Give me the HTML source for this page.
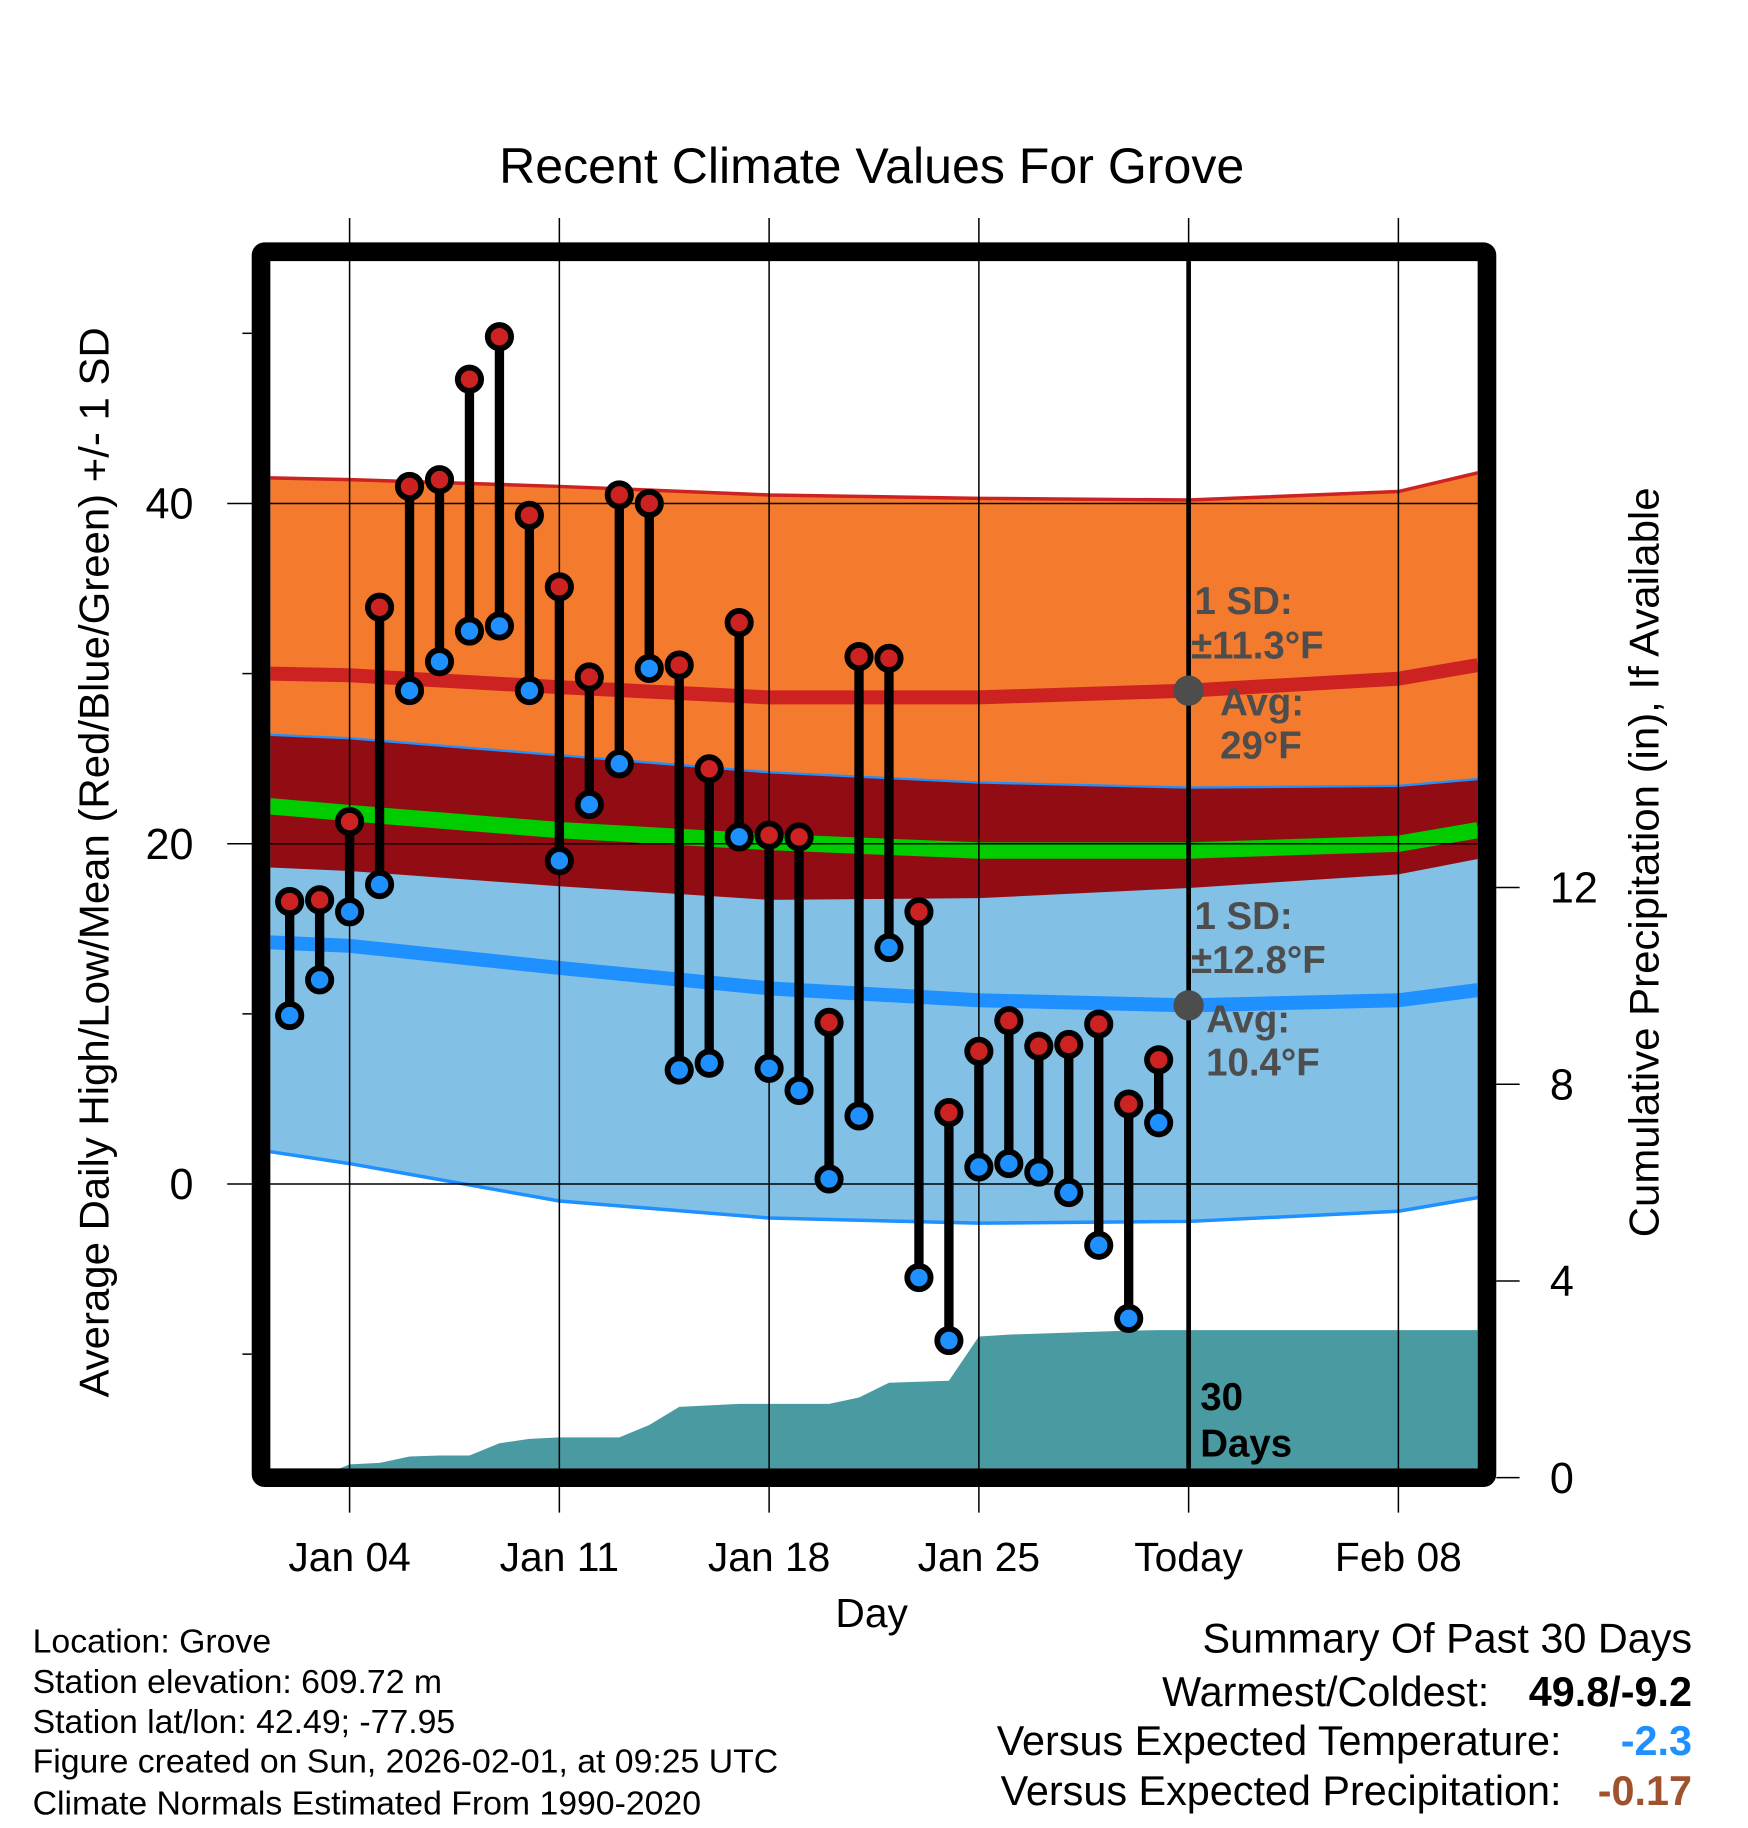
<!DOCTYPE html>
<html><head><meta charset="utf-8"><style>
html,body{margin:0;padding:0;background:#fff;}
svg{display:block;font-family:"Liberation Sans",sans-serif;}
</style></head><body>
<svg id="chart" width="1748" height="1828" viewBox="0 0 1500 1568.6" xmlns="http://www.w3.org/2000/svg">
<text x="748" y="157" font-size="43" text-anchor="middle">Recent Climate Values For Grove</text>
<g id="plot"></g>
<text transform="translate(93,740) rotate(-90)" font-size="36" text-anchor="middle">Average Daily High/Low/Mean (Red/Blue/Green) +/- 1 SD</text>
<text transform="translate(1423,740) rotate(-90)" font-size="36" text-anchor="middle">Cumulative Precipitation (in), If Available</text>
<text x="748" y="1396" font-size="35" text-anchor="middle">Day</text>
<g font-size="29">
<text x="28" y="1418">Location: Grove</text>
<text x="28" y="1453">Station elevation: 609.72 m</text>
<text x="28" y="1487">Station lat/lon: 42.49; -77.95</text>
<text x="28" y="1521">Figure created on Sun, 2026-02-01, at 09:25 UTC</text>
<text x="28" y="1557">Climate Normals Estimated From 1990-2020</text>
</g>
<g font-size="35.5">
<text x="1452" y="1418" text-anchor="end">Summary Of Past 30 Days</text>
<text x="1278" y="1464" text-anchor="end">Warmest/Coldest:</text>
<text x="1452" y="1464" text-anchor="end" font-weight="bold">49.8/-9.2</text>
<text x="1340" y="1506" text-anchor="end">Versus Expected Temperature:</text>
<text x="1452" y="1506" text-anchor="end" font-weight="bold" fill="#1e90ff">-2.3</text>
<text x="1340" y="1549" text-anchor="end">Versus Expected Precipitation:</text>
<text x="1452" y="1549" text-anchor="end" font-weight="bold" fill="#a0522d">-0.17</text>
</g>
</svg>
<script>
const days = [2,3,4,5,6,7,8,9,10,11,12,13,14,15,16,17,18,19,20,21,22,23,24,25,26,27,28,29,30,31];
const highs = [16.6,16.7,21.3,33.9,41.0,41.4,47.3,49.8,39.3,35.1,29.8,40.5,40.0,30.5,24.4,33.0,20.5,20.4,9.5,31.0,30.9,16.0,4.2,7.8,9.6,8.1,8.2,9.4,4.7,7.3];
const lows = [9.9,12.0,16.0,17.6,29.0,30.7,32.5,32.8,29.0,19.0,22.3,24.7,30.3,6.7,7.1,20.4,6.8,5.5,0.3,4.0,13.9,-5.5,-9.2,1.0,1.2,0.7,-0.5,-3.6,-7.9,3.6];
const precip = [0,0.02,0.27,0.30,0.43,0.45,0.45,0.70,0.79,0.82,0.82,0.82,1.07,1.44,1.47,1.50,1.50,1.50,1.50,1.63,1.93,1.95,1.97,2.87,2.91,2.93,2.95,2.97,2.99,3.0];
const normDays = [1.35,4,11,18,25,32,39,41.65];
const highUpper = [41.5,41.4,41.0,40.5,40.3,40.2,40.7,41.8];
const highAvg = [30.0,29.9,29.2,28.6,28.6,29.0,29.7,30.5];
const highLower = [18.6,18.4,17.5,16.7,16.8,17.4,18.2,19.1];
const lowUpper = [26.4,26.2,25.2,24.2,23.6,23.3,23.4,23.8];
const lowAvg = [14.2,14.0,12.7,11.5,10.8,10.5,10.8,11.4];
const lowLower = [1.9,1.2,-1.0,-2.0,-2.3,-2.2,-1.6,-0.8];
const meanAvg = [22.2,21.8,20.8,20.1,19.6,19.6,20.0,20.8];
const xTickDays = [4,11,18,25,32,39];
const xTickLabels = ["Jan 04","Jan 11","Jan 18","Jan 25","Today","Feb 08"];
const yTicks = [40,20,0];
const yMinor = [50,30,10,-10];
const y2Ticks = [0,4,8,12];

const NS="http://www.w3.org/2000/svg";
const L=232,R=1268,T=224,B=1260;
const X=d=>300+(d-4)*25.714;
const Y=v=>1016-v*14.6;
const P=v=>1268-v*42.2;
const g=document.getElementById('plot');
function mk(tag,attrs,parent){const e=document.createElementNS(NS,tag);for(const k in attrs)e.setAttribute(k,attrs[k]);(parent||g).appendChild(e);return e;}
const defs=mk('defs',{});
const cp=mk('clipPath',{id:'clip'},defs);mk('rect',{x:L,y:T,width:R-L,height:B-T},cp);
const cg=mk('g',{'clip-path':'url(#clip)'});
function band(up,lo,fill){let pts=normDays.map((d,i)=>X(d)+','+Y(up[i]));pts=pts.concat(normDays.map((d,i)=>X(d)+','+Y(lo[i])).reverse());return mk('polygon',{points:pts.join(' '),fill:fill},cg);}
function line(arr,col,w){return mk('polyline',{points:normDays.map((d,i)=>X(d)+','+Y(arr[i])).join(' '),fill:'none',stroke:col,'stroke-width':w},cg);}
let e;
e=band(highUpper,highLower,'#f47a2e');

e=band(lowUpper,lowLower,'#82c0e6');

const ov=normDays.map((d,i)=>Math.min(highUpper[i],lowUpper[i]));
const ol=normDays.map((d,i)=>Math.max(highLower[i],lowLower[i]));
e=band(ov,ol,'#920c14');

e=line(highUpper,'#cc2222',3);
e=line(lowUpper,'#1e90ff',2);
e=line(lowLower,'#1e90ff',3);
e=line(highAvg,'#cc2222',12);
e=line(lowAvg,'#1e90ff',12);
e=line(meanAvg,'#00cc00',14);
let pp=[L+','+P(0)];days.forEach((d,i)=>pp.push(X(d)+','+P(precip[i])));
pp.push(R+','+P(precip[precip.length-1]));pp.push(R+','+P(0));
e=mk('polygon',{points:pp.join(' '),fill:'#4a9aa2'},cg);

xTickDays.forEach((d,i)=>{
  e=mk('line',{x1:X(d),x2:X(d),y1:187,y2:B,stroke:'#000','stroke-width':1.3});
  
  e=mk('line',{x1:X(d),x2:X(d),y1:1276,y2:1298,stroke:'#000','stroke-width':1.3});
  
  e=mk('text',{x:X(d),y:1348,'font-size':35,'text-anchor':'middle'});e.textContent=xTickLabels[i];
  
});
yTicks.forEach(v=>{
  e=mk('line',{x1:195,x2:R,y1:Y(v),y2:Y(v),stroke:'#000','stroke-width':1.3});
  
  e=mk('text',{x:166,y:Y(v)+13,'font-size':37,'text-anchor':'end'});e.textContent=v;
  
});
yMinor.forEach(v=>{
  e=mk('line',{x1:208,x2:216,y1:Y(v),y2:Y(v),stroke:'#000','stroke-width':1.3});
  
});
y2Ticks.forEach(v=>{
  e=mk('line',{x1:1284,x2:1304,y1:P(v),y2:P(v),stroke:'#000','stroke-width':1.3});
  
  e=mk('text',{x:1330,y:P(v)+13,'font-size':37});e.textContent=v;
  
});
e=mk('line',{x1:X(32),x2:X(32),y1:T,y2:B,stroke:'#000','stroke-width':4});

const ann=[["1 SD:",1025,527],["±11.3°F",1022,565],["Avg:",1047,614],["29°F",1047,651],["1 SD:",1025,797],["±12.8°F",1022,835],["Avg:",1035,886],["10.4°F",1035,923]];
ann.forEach(a=>{e=mk('text',{x:a[1],y:a[2],'font-size':33,'font-weight':'bold',fill:'#4d4d4d'});e.textContent=a[0];
});
e=mk('circle',{cx:X(32),cy:Y(highAvg[5]),r:13,fill:'#4d4d4d'});

e=mk('circle',{cx:X(32),cy:Y(lowAvg[5]),r:13,fill:'#4d4d4d'});

e=mk('text',{x:1030,y:1210,'font-size':33,'font-weight':'bold'});e.textContent='30';

e=mk('text',{x:1030,y:1250,'font-size':33,'font-weight':'bold'});e.textContent='Days';

days.forEach((d,i)=>{
  const x=X(d);
  e=mk('line',{x1:x,x2:x,y1:Y(highs[i]),y2:Y(lows[i]),stroke:'#000','stroke-width':8});
  
  e=mk('circle',{cx:x,cy:Y(highs[i]),r:10,fill:'#cc2222',stroke:'#000','stroke-width':5});
  
  e=mk('circle',{cx:x,cy:Y(lows[i]),r:10,fill:'#1e90ff',stroke:'#000','stroke-width':5});
  
});
e=mk('rect',{x:224,y:216,width:1052,height:1052,fill:'none',stroke:'#000','stroke-width':16,rx:3});

</script>
</body></html>
